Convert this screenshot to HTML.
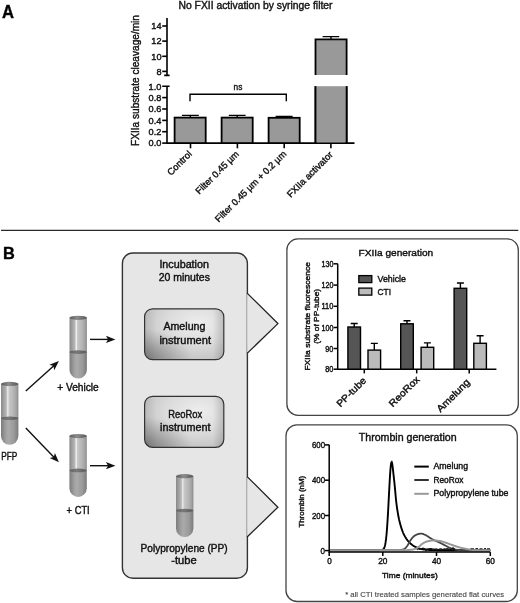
<!DOCTYPE html>
<html><head><meta charset="utf-8"><style>
html,body{margin:0;padding:0;background:#fff;}
svg{display:block;filter:grayscale(1);font-family:"Liberation Sans",sans-serif;}
text{stroke:#111;stroke-width:0.4px;}
</style></head><body>
<svg width="520" height="603" viewBox="0 0 520 603">
<defs>
<linearGradient id="tubeTop" x1="0" x2="1" y1="0" y2="0">
<stop offset="0" stop-color="#888"/><stop offset="0.15" stop-color="#a0a0a0"/><stop offset="0.3" stop-color="#b6b6b6"/>
<stop offset="0.36" stop-color="#dcdcdc"/><stop offset="0.4" stop-color="#f2f2f2"/><stop offset="0.45" stop-color="#c8c8c8"/><stop offset="0.7" stop-color="#b6b6b6"/><stop offset="0.88" stop-color="#a4a4a4"/><stop offset="1" stop-color="#888"/>
</linearGradient>
<linearGradient id="tubeLiq" x1="0" x2="1" y1="0" y2="0">
<stop offset="0" stop-color="#7c7c7c"/><stop offset="0.3" stop-color="#a2a2a2"/><stop offset="0.42" stop-color="#aaaaaa"/><stop offset="0.75" stop-color="#9a9a9a"/><stop offset="1" stop-color="#7a7a7a"/>
</linearGradient>
<linearGradient id="tubeBand" x1="0" x2="1" y1="0" y2="0">
<stop offset="0" stop-color="#5e5e5e"/><stop offset="0.4" stop-color="#7a7a7a"/><stop offset="1" stop-color="#5a5a5a"/>
</linearGradient>
<linearGradient id="tubeRim" x1="0" x2="1" y1="0" y2="0">
<stop offset="0" stop-color="#5a5a5a"/><stop offset="0.45" stop-color="#8c8c8c"/><stop offset="1" stop-color="#565656"/>
</linearGradient>
<radialGradient id="metal" cx="0.68" cy="0.3" r="0.95" fx="0.68" fy="0.3">
<stop offset="0" stop-color="#eeeeee"/><stop offset="0.45" stop-color="#dadada"/><stop offset="1" stop-color="#b4b4b4"/>
</radialGradient>
<radialGradient id="metalBL" cx="0" cy="1" r="0.6" fx="0" fy="1">
<stop offset="0" stop-color="#000" stop-opacity="0.32"/><stop offset="1" stop-color="#000" stop-opacity="0"/>
</radialGradient>
<linearGradient id="metalR" x1="0" x2="1" y1="0" y2="0">
<stop offset="0" stop-color="#000" stop-opacity="0.08"/><stop offset="0.15" stop-color="#000" stop-opacity="0"/><stop offset="0.86" stop-color="#000" stop-opacity="0"/><stop offset="1" stop-color="#000" stop-opacity="0.16"/>
</linearGradient>
</defs>
<rect x="0" y="0" width="520" height="603" fill="#fff"/>
<text x="2" y="17.5" font-size="17.6" fill="#000" textLength="12" lengthAdjust="spacingAndGlyphs" font-weight="bold">A</text>
<text x="178.5" y="9.4" font-size="10" fill="#222" textLength="154" lengthAdjust="spacingAndGlyphs">No FXII activation by syringe filter</text>
<text transform="translate(138.6,146) rotate(-90)" font-size="10.6" fill="#111" textLength="131" lengthAdjust="spacingAndGlyphs">FXIIa substrate cleavage/min</text>
<g stroke="#000" stroke-width="1.6" fill="none">
<path d="M167,18 V75.4 M164.2,75.4 H169.6 M167,86.2 V143.1 M162.2,86.2 H169.6 M166.2,143.1 H354.5"/>
<path d="M162.2,26 H167"/>
<path d="M162.2,41.1 H167"/>
<path d="M162.2,56.3 H167"/>
<path d="M162.2,71.4 H167"/>
<path d="M162.2,97.6 H167"/>
<path d="M162.2,109 H167"/>
<path d="M162.2,120.4 H167"/>
<path d="M162.2,131.7 H167"/>
<path d="M162.2,143.1 H167"/>
<path d="M190.5,143.1 V148.3"/>
<path d="M237.4,143.1 V148.3"/>
<path d="M284.2,143.1 V148.3"/>
<path d="M330.9,143.1 V148.3"/>
</g>
<text x="161.5" y="29.3" font-size="9.2" fill="#111" text-anchor="end">14</text>
<text x="161.5" y="44.4" font-size="9.2" fill="#111" text-anchor="end">12</text>
<text x="161.5" y="59.599999999999994" font-size="9.2" fill="#111" text-anchor="end">10</text>
<text x="161.5" y="74.7" font-size="9.2" fill="#111" text-anchor="end">8</text>
<text x="161.3" y="89.5" font-size="9.2" fill="#111" text-anchor="end">1.0</text>
<text x="161.3" y="100.89999999999999" font-size="9.2" fill="#111" text-anchor="end">0.8</text>
<text x="161.3" y="112.3" font-size="9.2" fill="#111" text-anchor="end">0.6</text>
<text x="161.3" y="123.7" font-size="9.2" fill="#111" text-anchor="end">0.4</text>
<text x="161.3" y="135.0" font-size="9.2" fill="#111" text-anchor="end">0.2</text>
<text x="161.3" y="146.4" font-size="9.2" fill="#111" text-anchor="end">0.0</text>
<rect x="174.6" y="117.6" width="31.1" height="25.5" fill="#999" stroke="#000" stroke-width="1.8"/>
<path d="M190.35000000000002,117.6 V115.4 M181.9,115.4 H198.8" stroke="#000" stroke-width="1.4"/>
<rect x="221.6" y="117.6" width="31.1" height="25.5" fill="#999" stroke="#000" stroke-width="1.8"/>
<path d="M237.2,117.6 V115.4 M228.8,115.4 H245.6" stroke="#000" stroke-width="1.4"/>
<rect x="268.6" y="117.8" width="31.1" height="25.299999999999997" fill="#999" stroke="#000" stroke-width="1.8"/>
<path d="M284.1,117.8 V116.5 M275.6,116.5 H292.6" stroke="#000" stroke-width="1.4"/>
<path d="M315.5,75 V39.4 H346.6 V75" fill="#999" stroke="#000" stroke-width="1.8"/>
<path d="M315.5,143.1 V86.2 M346.6,86.2 V143.1" stroke="#000" stroke-width="1.8"/>
<rect x="316.4" y="86.2" width="29.3" height="56" fill="#999"/>
<path d="M315.5,143.1 V86.2 M346.6,86.2 V143.1" stroke="#000" stroke-width="1.8"/>
<path d="M331,39 V36.6 M322.6,36.6 H339.2" stroke="#000" stroke-width="1.4"/>
<path d="M190,101.2 V94.3 H286.3 V101.2" fill="none" stroke="#000" stroke-width="1.4"/>
<text x="233.5" y="89.7" font-size="9.5" fill="#222" textLength="8.8" lengthAdjust="spacingAndGlyphs">ns</text>
<text transform="translate(192.5,154.6) rotate(-45)" text-anchor="end" font-size="9.4" fill="#111" textLength="30.3" lengthAdjust="spacingAndGlyphs">Control</text>
<text transform="translate(239.4,154.7) rotate(-45)" text-anchor="end" font-size="9.4" fill="#111" textLength="56.7" lengthAdjust="spacingAndGlyphs">Filter 0.45 µm</text>
<text transform="translate(286.9,154.6) rotate(-45)" text-anchor="end" font-size="9.4" fill="#111" textLength="96.5" lengthAdjust="spacingAndGlyphs">Filter 0.45 µm + 0.2 µm</text>
<text transform="translate(333.5,155.2) rotate(-45)" text-anchor="end" font-size="9.4" fill="#111" textLength="60.6" lengthAdjust="spacingAndGlyphs">FXIIa activator</text>
<path d="M1,230.4 H518.3" stroke="#2a2a2a" stroke-width="1.4"/>
<text x="3" y="259.3" font-size="17.3" fill="#000" textLength="11.8" lengthAdjust="spacingAndGlyphs" font-weight="bold">B</text>
<g transform="translate(1,381.7)">
<path d="M0,2 L17.4,2 L17.4,36.5 L0,36.5 Z" fill="url(#tubeTop)"/>
<path d="M0,36.5 L17.4,36.5 L17.4,54.3 A8.7,8.7 0 0 1 0,54.3 Z" fill="url(#tubeLiq)"/>
<ellipse cx="8.7" cy="36.5" rx="8.7" ry="1.8" fill="url(#tubeBand)"/>
<ellipse cx="8.7" cy="2.2" rx="8.7" ry="2.1" fill="url(#tubeRim)"/>
</g>
<g transform="translate(69.5,315.6)">
<path d="M0,2 L17.4,2 L17.4,36.5 L0,36.5 Z" fill="url(#tubeTop)"/>
<path d="M0,36.5 L17.4,36.5 L17.4,54.3 A8.7,8.7 0 0 1 0,54.3 Z" fill="url(#tubeLiq)"/>
<ellipse cx="8.7" cy="36.5" rx="8.7" ry="1.8" fill="url(#tubeBand)"/>
<ellipse cx="8.7" cy="2.2" rx="8.7" ry="2.1" fill="url(#tubeRim)"/>
</g>
<g transform="translate(69.4,433.9)">
<path d="M0,2 L17.4,2 L17.4,36.5 L0,36.5 Z" fill="url(#tubeTop)"/>
<path d="M0,36.5 L17.4,36.5 L17.4,54.3 A8.7,8.7 0 0 1 0,54.3 Z" fill="url(#tubeLiq)"/>
<ellipse cx="8.7" cy="36.5" rx="8.7" ry="1.8" fill="url(#tubeBand)"/>
<ellipse cx="8.7" cy="2.2" rx="8.7" ry="2.1" fill="url(#tubeRim)"/>
</g>
<text x="1.2" y="460.3" font-size="10" fill="#111" textLength="16.1" lengthAdjust="spacingAndGlyphs">PFP</text>
<text x="57.2" y="390.8" font-size="10.2" fill="#111" textLength="41.6" lengthAdjust="spacingAndGlyphs">+ Vehicle</text>
<text x="66.6" y="513.8" font-size="10" fill="#111" textLength="23.1" lengthAdjust="spacingAndGlyphs">+ CTI</text>
<path d="M25.80,390.90 L53.85,365.65" stroke="#111" stroke-width="1.4"/><path d="M58.90,361.10 L54.25,370.13 L53.47,365.98 L49.43,364.78 Z" fill="#111"/>
<path d="M25.80,427.90 L54.19,457.40" stroke="#111" stroke-width="1.4"/><path d="M58.90,462.30 L49.72,457.95 L53.84,457.04 L54.91,452.96 Z" fill="#111"/>
<path d="M90.00,339.40 L108.60,339.40" stroke="#111" stroke-width="1.4"/><path d="M115.40,339.40 L105.90,343.00 L108.10,339.40 L105.90,335.80 Z" fill="#111"/>
<path d="M90.00,465.70 L108.60,465.70" stroke="#111" stroke-width="1.4"/><path d="M115.40,465.70 L105.90,469.30 L108.10,465.70 L105.90,462.10 Z" fill="#111"/>
<rect x="122.4" y="253" width="125" height="325.2" rx="10.5" fill="#e6e6e6" stroke="#333" stroke-width="1.4"/>
<path d="M247.1,293.1 L277.9,323.6 L247.1,353.4" fill="#e6e6e6" stroke="#222" stroke-width="1.3"/>
<path d="M247.1,476.6 L277.9,507.2 L247.1,537" fill="#e6e6e6" stroke="#222" stroke-width="1.3"/>
<text x="159.4" y="267.5" font-size="10" fill="#111" textLength="49.5" lengthAdjust="spacingAndGlyphs">Incubation</text>
<text x="158.7" y="280.8" font-size="10" fill="#111" textLength="51.2" lengthAdjust="spacingAndGlyphs">20 minutes</text>
<rect x="144.6" y="308.8" width="79.2" height="50.9" rx="8" fill="url(#metal)"/><rect x="144.6" y="308.8" width="79.2" height="50.9" rx="8" fill="url(#metalBL)"/><rect x="144.6" y="308.8" width="79.2" height="50.9" rx="8" fill="url(#metalR)" stroke="#333" stroke-width="1.2"/>
<text x="163.4" y="330.3" font-size="10.2" fill="#111" textLength="42" lengthAdjust="spacingAndGlyphs">Amelung</text>
<text x="159.4" y="343.6" font-size="10.2" fill="#111" textLength="51.6" lengthAdjust="spacingAndGlyphs">instrument</text>
<rect x="144.6" y="396.3" width="79.2" height="51" rx="8" fill="url(#metal)"/><rect x="144.6" y="396.3" width="79.2" height="51" rx="8" fill="url(#metalBL)"/><rect x="144.6" y="396.3" width="79.2" height="51" rx="8" fill="url(#metalR)" stroke="#333" stroke-width="1.2"/>
<text x="168.2" y="417.5" font-size="10.2" fill="#111" textLength="34" lengthAdjust="spacingAndGlyphs">ReoRox</text>
<text x="160.1" y="430.7" font-size="10.2" fill="#111" textLength="50.5" lengthAdjust="spacingAndGlyphs">instrument</text>
<g transform="translate(176,474)">
<path d="M0,2 L17.4,2 L17.4,36.5 L0,36.5 Z" fill="url(#tubeTop)"/>
<path d="M0,36.5 L17.4,36.5 L17.4,54.3 A8.7,8.7 0 0 1 0,54.3 Z" fill="url(#tubeLiq)"/>
<ellipse cx="8.7" cy="36.5" rx="8.7" ry="1.8" fill="url(#tubeBand)"/>
<ellipse cx="8.7" cy="2.2" rx="8.7" ry="2.1" fill="url(#tubeRim)"/>
</g>
<text x="140.5" y="552.2" font-size="10.2" fill="#111" textLength="87.2" lengthAdjust="spacingAndGlyphs">Polypropylene (PP)</text>
<text x="171.2" y="564" font-size="10.2" fill="#111" textLength="25.5" lengthAdjust="spacingAndGlyphs">-tube</text>
<rect x="286.9" y="238.9" width="231.4" height="176.4" rx="11" fill="#fff" stroke="#444" stroke-width="1.3"/>
<text x="358.5" y="255.9" font-size="9.8" fill="#111" textLength="74.7" lengthAdjust="spacingAndGlyphs">FXIIa generation</text>
<g stroke="#000" stroke-width="1.5" fill="none">
<path d="M337.7,263.8 V369.2 M337,369.2 H496.4"/>
<path d="M333.6,263.8 H337.7"/>
<path d="M333.6,285.1 H337.7"/>
<path d="M333.6,306.3 H337.7"/>
<path d="M333.6,327.5 H337.7"/>
<path d="M333.6,348.5 H337.7"/>
<path d="M333.6,369.2 H337.7"/>
<path d="M364.3,369.2 V373.4"/>
<path d="M416.7,369.2 V373.4"/>
<path d="M469.2,369.2 V373.4"/>
</g>
<text x="333.4" y="266.90000000000003" font-size="8.3" fill="#111" text-anchor="end" textLength="11.9" lengthAdjust="spacingAndGlyphs">130</text>
<text x="333.4" y="288.20000000000005" font-size="8.3" fill="#111" text-anchor="end" textLength="11.9" lengthAdjust="spacingAndGlyphs">120</text>
<text x="333.4" y="309.40000000000003" font-size="8.3" fill="#111" text-anchor="end" textLength="11.9" lengthAdjust="spacingAndGlyphs">110</text>
<text x="333.4" y="330.6" font-size="8.3" fill="#111" text-anchor="end" textLength="11.9" lengthAdjust="spacingAndGlyphs">100</text>
<text x="333.4" y="351.6" font-size="8.3" fill="#111" text-anchor="end" textLength="8.1" lengthAdjust="spacingAndGlyphs">90</text>
<text x="333.4" y="372.3" font-size="8.3" fill="#111" text-anchor="end" textLength="8.1" lengthAdjust="spacingAndGlyphs">80</text>
<rect x="347.9" y="327" width="12.6" height="42.19999999999999" fill="#555" stroke="#000" stroke-width="1.4"/>
<path d="M354.2,327 V323.5 M350.7,323.5 H357.7" stroke="#000" stroke-width="1.4"/>
<rect x="368.0" y="350.1" width="12.6" height="19.099999999999966" fill="#bbb" stroke="#000" stroke-width="1.4"/>
<path d="M374.3,350.1 V343.4 M370.8,343.4 H377.8" stroke="#000" stroke-width="1.4"/>
<rect x="400.7" y="323.8" width="12.6" height="45.39999999999998" fill="#555" stroke="#000" stroke-width="1.4"/>
<path d="M407,323.8 V320.8 M403.5,320.8 H410.5" stroke="#000" stroke-width="1.4"/>
<rect x="421.09999999999997" y="347.3" width="12.6" height="21.899999999999977" fill="#bbb" stroke="#000" stroke-width="1.4"/>
<path d="M427.4,347.3 V342.9 M423.9,342.9 H430.9" stroke="#000" stroke-width="1.4"/>
<rect x="454.09999999999997" y="288.3" width="12.6" height="80.89999999999998" fill="#555" stroke="#000" stroke-width="1.4"/>
<path d="M460.4,288.3 V283 M456.9,283 H463.9" stroke="#000" stroke-width="1.4"/>
<rect x="473.8" y="343.3" width="12.6" height="25.899999999999977" fill="#bbb" stroke="#000" stroke-width="1.4"/>
<path d="M480.1,343.3 V335.7 M476.6,335.7 H483.6" stroke="#000" stroke-width="1.4"/>
<rect x="358.8" y="275.6" width="13" height="7" fill="#555" stroke="#000" stroke-width="1.3"/>
<rect x="358.8" y="288.1" width="13" height="7" fill="#bbb" stroke="#000" stroke-width="1.3"/>
<text x="377.5" y="282.4" font-size="9.2" fill="#111" textLength="28.5" lengthAdjust="spacingAndGlyphs">Vehicle</text>
<text x="377.5" y="294.5" font-size="9.2" fill="#111" textLength="13.5" lengthAdjust="spacingAndGlyphs">CTI</text>
<text transform="translate(309.8,370.6) rotate(-90)" font-size="7.8" fill="#111" textLength="108.6" lengthAdjust="spacingAndGlyphs">FXIIa substrate fluorescence</text>
<text transform="translate(319.3,343.7) rotate(-90)" font-size="7.8" fill="#111" textLength="54.8" lengthAdjust="spacingAndGlyphs">(% of PP-tube)</text>
<text transform="translate(366.8,381.2) rotate(-45)" text-anchor="end" font-size="9.7" fill="#111" textLength="37.3" lengthAdjust="spacingAndGlyphs">PP-tube</text>
<text transform="translate(420.2,380.1) rotate(-45)" text-anchor="end" font-size="9.7" fill="#111" textLength="38.7" lengthAdjust="spacingAndGlyphs">ReoRox</text>
<text transform="translate(470.5,382.8) rotate(-45)" text-anchor="end" font-size="9.7" fill="#111" textLength="42.4" lengthAdjust="spacingAndGlyphs">Amelung</text>
<rect x="286" y="424.8" width="231.3" height="176.7" rx="11" fill="#fff" stroke="#444" stroke-width="1.3"/>
<text x="358.8" y="441.2" font-size="10.3" fill="#111" textLength="97.8" lengthAdjust="spacingAndGlyphs">Thrombin generation</text>
<text transform="translate(304.2,527.6) rotate(-90)" font-size="7.8" fill="#111" textLength="51.8" lengthAdjust="spacingAndGlyphs">Thrombin (nM)</text>
<path d="M329.50,550.20 L329.82,550.20 L330.14,550.20 L330.47,550.20 L330.79,550.20 L331.11,550.20 L331.43,550.20 L331.76,550.20 L332.08,550.20 L332.40,550.20 L332.72,550.20 L333.04,550.20 L333.37,550.20 L333.69,550.20 L334.01,550.20 L334.33,550.20 L334.66,550.20 L334.98,550.20 L335.30,550.20 L335.62,550.20 L335.94,550.20 L336.27,550.20 L336.59,550.20 L336.91,550.20 L337.23,550.20 L337.56,550.20 L337.88,550.20 L338.20,550.20 L338.52,550.20 L338.85,550.20 L339.17,550.20 L339.49,550.20 L339.81,550.20 L340.13,550.20 L340.46,550.20 L340.78,550.20 L341.10,550.20 L341.42,550.20 L341.75,550.20 L342.07,550.20 L342.39,550.20 L342.71,550.20 L343.03,550.20 L343.36,550.20 L343.68,550.20 L344.00,550.20 L344.32,550.20 L344.65,550.20 L344.97,550.20 L345.29,550.20 L345.61,550.20 L345.93,550.20 L346.26,550.20 L346.58,550.20 L346.90,550.20 L347.22,550.20 L347.55,550.20 L347.87,550.20 L348.19,550.20 L348.51,550.20 L348.83,550.20 L349.16,550.20 L349.48,550.20 L349.80,550.20 L350.12,550.20 L350.45,550.20 L350.77,550.20 L351.09,550.20 L351.41,550.20 L351.73,550.20 L352.06,550.20 L352.38,550.20 L352.70,550.20 L353.02,550.20 L353.35,550.20 L353.67,550.20 L353.99,550.20 L354.31,550.20 L354.64,550.20 L354.96,550.20 L355.28,550.20 L355.60,550.20 L355.92,550.20 L356.25,550.20 L356.57,550.20 L356.89,550.20 L357.21,550.20 L357.54,550.20 L357.86,550.20 L358.18,550.20 L358.50,550.20 L358.82,550.20 L359.15,550.20 L359.47,550.20 L359.79,550.20 L360.11,550.20 L360.44,550.20 L360.76,550.20 L361.08,550.20 L361.40,550.20 L361.72,550.20 L362.05,550.20 L362.37,550.20 L362.69,550.20 L363.01,550.20 L363.34,550.20 L363.66,550.20 L363.98,550.20 L364.30,550.20 L364.62,550.20 L364.95,550.20 L365.27,550.20 L365.59,550.20 L365.91,550.20 L366.24,550.20 L366.56,550.20 L366.88,550.20 L367.20,550.20 L367.52,550.20 L367.85,550.20 L368.17,550.20 L368.49,550.20 L368.81,550.20 L369.14,550.20 L369.46,550.20 L369.78,550.20 L370.10,550.20 L370.43,550.20 L370.75,550.20 L371.07,550.20 L371.39,550.20 L371.71,550.20 L372.04,550.20 L372.36,550.20 L372.68,550.20 L373.00,550.20 L373.33,550.20 L373.65,550.20 L373.97,550.20 L374.29,550.20 L374.61,550.20 L374.94,550.20 L375.26,550.20 L375.58,550.20 L375.90,550.20 L376.23,550.20 L376.55,550.20 L376.87,550.20 L377.19,550.20 L377.51,550.19 L377.84,550.19 L378.16,550.19 L378.48,550.19 L378.80,550.18 L379.13,550.18 L379.45,550.18 L379.77,550.17 L380.09,550.16 L380.41,550.16 L380.74,550.15 L381.06,550.14 L381.38,550.14 L381.70,550.13 L382.03,550.12 L382.35,550.11 L382.67,550.01 L382.99,549.61 L383.31,549.28 L383.64,548.93 L383.96,548.42 L384.28,547.74 L384.60,546.86 L384.93,545.71 L385.25,544.26 L385.57,542.44 L385.89,540.21 L386.22,537.52 L386.54,534.30 L386.86,530.58 L387.18,526.28 L387.50,521.49 L387.83,516.16 L388.15,510.45 L388.47,504.36 L388.79,498.14 L389.12,491.81 L389.44,485.71 L389.76,479.83 L390.08,474.62 L390.40,469.97 L390.73,466.45 L391.05,463.70 L391.37,462.37 L391.69,462.04 L392.02,462.84 L392.34,464.48 L392.66,466.77 L392.98,469.52 L393.30,472.53 L393.63,475.63 L393.95,478.60 L394.27,481.39 L394.59,484.50 L394.92,487.90 L395.24,491.44 L395.56,494.98 L395.88,498.39 L396.20,501.52 L396.53,504.25 L396.85,506.58 L397.17,508.80 L397.49,510.89 L397.82,512.88 L398.14,514.75 L398.46,516.50 L398.78,518.13 L399.10,519.63 L399.43,521.01 L399.75,522.28 L400.07,523.50 L400.39,524.67 L400.72,525.80 L401.04,526.88 L401.36,527.91 L401.68,528.89 L402.01,529.83 L402.33,530.72 L402.65,531.56 L402.97,532.36 L403.29,533.11 L403.62,533.82 L403.94,534.48 L404.26,535.10 L404.58,535.71 L404.91,536.29 L405.23,536.86 L405.55,537.40 L405.87,537.93 L406.19,538.44 L406.52,538.92 L406.84,539.40 L407.16,539.85 L407.48,540.28 L407.81,540.70 L408.13,541.10 L408.45,541.48 L408.77,541.85 L409.09,542.19 L409.42,542.53 L409.74,542.84 L410.06,543.14 L410.38,543.44 L410.71,543.72 L411.03,544.00 L411.35,544.27 L411.67,544.53 L411.99,544.78 L412.32,545.02 L412.64,545.26 L412.96,545.48 L413.28,545.70 L413.61,545.91 L413.93,546.10 L414.25,546.30 L414.57,546.48 L414.89,546.65 L415.22,546.82 L415.54,546.97 L415.86,547.12 L416.18,547.27 L416.51,547.41 L416.83,547.55 L417.15,547.69 L417.47,547.83 L417.79,547.96 L418.12,548.09 L418.44,548.21 L418.76,548.33 L419.08,548.45 L419.41,548.55 L419.73,548.66 L420.05,548.76 L420.37,548.85 L420.70,548.93 L421.02,549.01 L421.34,549.08 L421.66,549.14 L421.98,549.20 L422.31,549.25 L422.63,549.30 L422.95,549.34 L423.27,549.39 L423.60,549.44 L423.92,549.48 L424.24,549.52 L424.56,549.56 L424.88,549.60 L425.21,549.64 L425.53,549.67 L425.85,549.71 L426.17,549.74 L426.50,549.77 L426.82,549.80 L427.14,549.83 L427.46,549.86 L427.78,549.88 L428.11,549.90 L428.43,549.92 L428.75,549.94 L429.07,549.96 L429.40,549.98 L429.72,549.99 L430.04,550.00 L430.36,550.01 L430.68,550.02 L431.01,550.03 L431.33,550.04 L431.65,550.05 L431.97,550.06 L432.30,550.07 L432.62,550.08 L432.94,550.09 L433.26,550.10 L433.58,550.11 L433.91,550.12 L434.23,550.13 L434.55,550.13 L434.87,550.14 L435.20,550.15 L435.52,550.15 L435.84,550.16 L436.16,550.17 L436.49,550.17 L436.81,550.18 L437.13,550.18 L437.45,550.18 L437.77,550.19 L438.10,550.19 L438.42,550.19 L438.74,550.20 L439.06,550.20 L439.39,550.20 L439.71,550.20 L440.03,550.20 L440.35,550.20 L440.67,550.20 L441.00,550.20 L441.32,550.20 L441.64,550.20 L441.96,550.20 L442.29,550.20 L442.61,550.20 L442.93,550.20 L443.25,550.20 L443.57,550.20 L443.90,550.20 L444.22,550.20 L444.54,550.20 L444.86,550.20 L445.19,550.20 L445.51,550.20 L445.83,550.20 L446.15,550.20 L446.47,550.20 L446.80,550.20 L447.12,550.20 L447.44,550.20 L447.76,550.20 L448.09,550.20 L448.41,550.20 L448.73,550.20 L449.05,550.20 L449.37,550.20 L449.70,550.20 L450.02,550.20 L450.34,550.20 L450.66,550.20 L450.99,550.20 L451.31,550.20 L451.63,550.20 L451.95,550.20 L452.28,550.20 L452.60,550.20 L452.92,550.20 L453.24,550.20 L453.56,550.20 L453.89,550.20 L454.21,550.20 L454.53,550.20 L454.85,550.20 L455.18,550.20 L455.50,550.20 L455.82,550.20 L456.14,550.20 L456.46,550.20 L456.79,550.20 L457.11,550.20 L457.43,550.20 L457.75,550.20 L458.08,550.20 L458.40,550.20 L458.72,550.20 L459.04,550.20 L459.36,550.20 L459.69,550.20 L460.01,550.20 L460.33,550.20 L460.65,550.20 L460.98,550.20 L461.30,550.20 L461.62,550.20 L461.94,550.20 L462.26,550.20 L462.59,550.20 L462.91,550.20 L463.23,550.20 L463.55,550.20 L463.88,550.20 L464.20,550.20 L464.52,550.20 L464.84,550.20 L465.16,550.20 L465.49,550.20 L465.81,550.20 L466.13,550.20 L466.45,550.20 L466.78,550.20 L467.10,550.20 L467.42,550.20 L467.74,550.20 L468.07,550.20 L468.39,550.20 L468.71,550.20 L469.03,550.20 L469.35,550.20 L469.68,550.20 L470.00,550.20 L470.32,550.20 L470.64,550.20 L470.97,550.20 L471.29,550.20 L471.61,550.20 L471.93,550.20 L472.25,550.20 L472.58,550.20 L472.90,550.20 L473.22,550.20 L473.54,550.20 L473.87,550.20 L474.19,550.20 L474.51,550.20 L474.83,550.20 L475.15,550.20 L475.48,550.20 L475.80,550.20 L476.12,550.20 L476.44,550.20 L476.77,550.20 L477.09,550.20 L477.41,550.20 L477.73,550.20 L478.05,550.20 L478.38,550.20 L478.70,550.20 L479.02,550.20 L479.34,550.20 L479.67,550.20 L479.99,550.20 L480.31,550.20 L480.63,550.20 L480.95,550.20 L481.28,550.20 L481.60,550.20 L481.92,550.20 L482.24,550.20 L482.57,550.20 L482.89,550.20 L483.21,550.20 L483.53,550.20 L483.86,550.20 L484.18,550.20 L484.50,550.20 L484.82,550.20 L485.14,550.20 L485.47,550.20 L485.79,550.20 L486.11,550.20 L486.43,550.20 L486.76,550.20 L487.08,550.20 L487.40,550.20 L487.72,550.20 L488.04,550.20 L488.37,550.20 L488.69,550.20 L489.01,550.20 L489.33,550.20 L489.66,550.20 L489.98,550.20 L490.30,550.20" fill="none" stroke="#000" stroke-width="1.9"/>
<path d="M329.50,550.20 L329.82,550.20 L330.14,550.20 L330.47,550.20 L330.79,550.20 L331.11,550.20 L331.43,550.20 L331.76,550.20 L332.08,550.20 L332.40,550.20 L332.72,550.20 L333.04,550.20 L333.37,550.20 L333.69,550.20 L334.01,550.20 L334.33,550.20 L334.66,550.20 L334.98,550.20 L335.30,550.20 L335.62,550.20 L335.94,550.20 L336.27,550.20 L336.59,550.20 L336.91,550.20 L337.23,550.20 L337.56,550.20 L337.88,550.20 L338.20,550.20 L338.52,550.20 L338.85,550.20 L339.17,550.20 L339.49,550.20 L339.81,550.20 L340.13,550.20 L340.46,550.20 L340.78,550.20 L341.10,550.20 L341.42,550.20 L341.75,550.20 L342.07,550.20 L342.39,550.20 L342.71,550.20 L343.03,550.20 L343.36,550.20 L343.68,550.20 L344.00,550.20 L344.32,550.20 L344.65,550.20 L344.97,550.20 L345.29,550.20 L345.61,550.20 L345.93,550.20 L346.26,550.20 L346.58,550.20 L346.90,550.20 L347.22,550.20 L347.55,550.20 L347.87,550.20 L348.19,550.20 L348.51,550.20 L348.83,550.20 L349.16,550.20 L349.48,550.20 L349.80,550.20 L350.12,550.20 L350.45,550.20 L350.77,550.20 L351.09,550.20 L351.41,550.20 L351.73,550.20 L352.06,550.20 L352.38,550.20 L352.70,550.20 L353.02,550.20 L353.35,550.20 L353.67,550.20 L353.99,550.20 L354.31,550.20 L354.64,550.20 L354.96,550.20 L355.28,550.20 L355.60,550.20 L355.92,550.20 L356.25,550.20 L356.57,550.20 L356.89,550.20 L357.21,550.20 L357.54,550.20 L357.86,550.20 L358.18,550.20 L358.50,550.20 L358.82,550.20 L359.15,550.20 L359.47,550.20 L359.79,550.20 L360.11,550.20 L360.44,550.20 L360.76,550.20 L361.08,550.20 L361.40,550.20 L361.72,550.20 L362.05,550.20 L362.37,550.20 L362.69,550.20 L363.01,550.20 L363.34,550.20 L363.66,550.20 L363.98,550.20 L364.30,550.20 L364.62,550.20 L364.95,550.20 L365.27,550.20 L365.59,550.20 L365.91,550.20 L366.24,550.20 L366.56,550.20 L366.88,550.20 L367.20,550.20 L367.52,550.20 L367.85,550.20 L368.17,550.20 L368.49,550.20 L368.81,550.20 L369.14,550.20 L369.46,550.20 L369.78,550.20 L370.10,550.20 L370.43,550.20 L370.75,550.20 L371.07,550.20 L371.39,550.20 L371.71,550.20 L372.04,550.20 L372.36,550.20 L372.68,550.20 L373.00,550.20 L373.33,550.20 L373.65,550.20 L373.97,550.20 L374.29,550.20 L374.61,550.20 L374.94,550.20 L375.26,550.20 L375.58,550.20 L375.90,550.20 L376.23,550.20 L376.55,550.20 L376.87,550.20 L377.19,550.20 L377.51,550.20 L377.84,550.20 L378.16,550.20 L378.48,550.20 L378.80,550.20 L379.13,550.20 L379.45,550.20 L379.77,550.20 L380.09,550.20 L380.41,550.20 L380.74,550.20 L381.06,550.20 L381.38,550.20 L381.70,550.20 L382.03,550.20 L382.35,550.20 L382.67,550.20 L382.99,550.20 L383.31,550.20 L383.64,550.20 L383.96,550.20 L384.28,550.20 L384.60,550.20 L384.93,550.20 L385.25,550.20 L385.57,550.20 L385.89,550.20 L386.22,550.20 L386.54,550.20 L386.86,550.20 L387.18,550.20 L387.50,550.20 L387.83,550.20 L388.15,550.20 L388.47,550.20 L388.79,550.20 L389.12,550.20 L389.44,550.20 L389.76,550.20 L390.08,550.20 L390.40,550.20 L390.73,550.20 L391.05,550.20 L391.37,550.20 L391.69,550.20 L392.02,550.20 L392.34,550.20 L392.66,550.20 L392.98,550.20 L393.30,550.20 L393.63,550.20 L393.95,550.20 L394.27,550.20 L394.59,550.20 L394.92,550.20 L395.24,550.20 L395.56,550.20 L395.88,550.19 L396.20,550.19 L396.53,550.18 L396.85,550.17 L397.17,550.16 L397.49,550.14 L397.82,550.13 L398.14,550.11 L398.46,550.09 L398.78,550.07 L399.10,550.05 L399.43,550.03 L399.75,550.01 L400.07,549.98 L400.39,549.95 L400.72,549.93 L401.04,549.90 L401.36,549.86 L401.68,549.81 L402.01,549.74 L402.33,549.66 L402.65,549.58 L402.97,549.48 L403.29,549.36 L403.62,549.24 L403.94,549.11 L404.26,548.97 L404.58,548.79 L404.91,548.56 L405.23,548.28 L405.55,547.97 L405.87,547.62 L406.19,547.25 L406.52,546.86 L406.84,546.46 L407.16,546.05 L407.48,545.61 L407.81,545.10 L408.13,544.54 L408.45,543.93 L408.77,543.31 L409.09,542.68 L409.42,542.06 L409.74,541.47 L410.06,540.92 L410.38,540.42 L410.71,539.97 L411.03,539.53 L411.35,539.09 L411.67,538.66 L411.99,538.25 L412.32,537.86 L412.64,537.49 L412.96,537.14 L413.28,536.81 L413.61,536.52 L413.93,536.25 L414.25,536.02 L414.57,535.79 L414.89,535.57 L415.22,535.37 L415.54,535.17 L415.86,534.99 L416.18,534.82 L416.51,534.67 L416.83,534.53 L417.15,534.41 L417.47,534.31 L417.79,534.22 L418.12,534.13 L418.44,534.04 L418.76,533.96 L419.08,533.88 L419.41,533.81 L419.73,533.74 L420.05,533.69 L420.37,533.65 L420.70,533.62 L421.02,533.60 L421.34,533.60 L421.66,533.63 L421.98,533.68 L422.31,533.75 L422.63,533.84 L422.95,533.95 L423.27,534.07 L423.60,534.20 L423.92,534.34 L424.24,534.48 L424.56,534.62 L424.88,534.75 L425.21,534.89 L425.53,535.04 L425.85,535.20 L426.17,535.38 L426.50,535.57 L426.82,535.76 L427.14,535.97 L427.46,536.18 L427.78,536.39 L428.11,536.61 L428.43,536.83 L428.75,537.05 L429.07,537.26 L429.40,537.48 L429.72,537.68 L430.04,537.89 L430.36,538.08 L430.68,538.27 L431.01,538.45 L431.33,538.64 L431.65,538.83 L431.97,539.01 L432.30,539.19 L432.62,539.37 L432.94,539.55 L433.26,539.72 L433.58,539.89 L433.91,540.05 L434.23,540.21 L434.55,540.36 L434.87,540.51 L435.20,540.65 L435.52,540.79 L435.84,540.93 L436.16,541.06 L436.49,541.20 L436.81,541.33 L437.13,541.47 L437.45,541.61 L437.77,541.75 L438.10,541.90 L438.42,542.05 L438.74,542.20 L439.06,542.35 L439.39,542.51 L439.71,542.66 L440.03,542.82 L440.35,542.98 L440.67,543.14 L441.00,543.30 L441.32,543.46 L441.64,543.62 L441.96,543.78 L442.29,543.95 L442.61,544.11 L442.93,544.28 L443.25,544.45 L443.57,544.62 L443.90,544.79 L444.22,544.97 L444.54,545.14 L444.86,545.31 L445.19,545.48 L445.51,545.65 L445.83,545.82 L446.15,545.98 L446.47,546.15 L446.80,546.33 L447.12,546.50 L447.44,546.68 L447.76,546.85 L448.09,547.02 L448.41,547.19 L448.73,547.35 L449.05,547.51 L449.37,547.67 L449.70,547.81 L450.02,547.95 L450.34,548.08 L450.66,548.20 L450.99,548.32 L451.31,548.44 L451.63,548.55 L451.95,548.66 L452.28,548.77 L452.60,548.87 L452.92,548.97 L453.24,549.07 L453.56,549.16 L453.89,549.25 L454.21,549.33 L454.53,549.40 L454.85,549.47 L455.18,549.53 L455.50,549.60 L455.82,549.66 L456.14,549.72 L456.46,549.79 L456.79,549.85 L457.11,549.90 L457.43,549.96 L457.75,550.01 L458.08,550.06 L458.40,550.10 L458.72,550.13 L459.04,550.16 L459.36,550.18 L459.69,550.20 L460.01,550.20 L460.33,550.20 L460.65,550.20 L460.98,550.20 L461.30,550.20 L461.62,550.20 L461.94,550.20 L462.26,550.20 L462.59,550.20 L462.91,550.20 L463.23,550.20 L463.55,550.20 L463.88,550.20 L464.20,550.20 L464.52,550.20 L464.84,550.20 L465.16,550.20 L465.49,550.20 L465.81,550.20 L466.13,550.20 L466.45,550.20 L466.78,550.20 L467.10,550.20 L467.42,550.20 L467.74,550.20 L468.07,550.20 L468.39,550.20 L468.71,550.20 L469.03,550.20 L469.35,550.20 L469.68,550.20 L470.00,550.20 L470.32,550.20 L470.64,550.20 L470.97,550.20 L471.29,550.20 L471.61,550.20 L471.93,550.20 L472.25,550.20 L472.58,550.20 L472.90,550.20 L473.22,550.20 L473.54,550.20 L473.87,550.20 L474.19,550.20 L474.51,550.20 L474.83,550.20 L475.15,550.20 L475.48,550.20 L475.80,550.20 L476.12,550.20 L476.44,550.20 L476.77,550.20 L477.09,550.20 L477.41,550.20 L477.73,550.20 L478.05,550.20 L478.38,550.20 L478.70,550.20 L479.02,550.20 L479.34,550.20 L479.67,550.20 L479.99,550.20 L480.31,550.20 L480.63,550.20 L480.95,550.20 L481.28,550.20 L481.60,550.20 L481.92,550.20 L482.24,550.20 L482.57,550.20 L482.89,550.20 L483.21,550.20 L483.53,550.20 L483.86,550.20 L484.18,550.20 L484.50,550.20 L484.82,550.20 L485.14,550.20 L485.47,550.20 L485.79,550.20 L486.11,550.20 L486.43,550.20 L486.76,550.20 L487.08,550.20 L487.40,550.20 L487.72,550.20 L488.04,550.20 L488.37,550.20 L488.69,550.20 L489.01,550.20 L489.33,550.20 L489.66,550.20 L489.98,550.20 L490.30,550.20" fill="none" stroke="#444" stroke-width="1.8"/>
<path d="M417.0,549.92 L418.0,547.85 L419.0,549.19 L420.0,548.74 L421.0,548.80 L422.0,548.90 L423.0,548.09 L424.0,548.90 L425.0,548.61 L426.0,550.50 L427.0,549.10 L428.0,548.84 L429.0,548.87 L430.0,548.70 L431.0,548.53 L432.0,548.82 L433.0,549.22 L434.0,548.89 L435.0,549.43 L436.0,548.91 L437.0,549.01 L438.0,549.70 L439.0,549.25 L440.0,548.77 L441.0,548.92 L442.0,549.24 L443.0,549.87 L444.0,548.88 L445.0,548.89 L446.0,549.45 L447.0,548.60 L448.0,548.87 L449.0,549.40 L450.0,549.26 L451.0,549.04 L452.0,549.30 L453.0,547.73 L454.0,549.46 L455.0,548.57" fill="none" stroke="#111" stroke-width="1.2"/>
<path d="M329.50,550.20 L329.82,550.20 L330.14,550.20 L330.47,550.20 L330.79,550.20 L331.11,550.20 L331.43,550.20 L331.76,550.20 L332.08,550.20 L332.40,550.20 L332.72,550.20 L333.04,550.20 L333.37,550.20 L333.69,550.20 L334.01,550.20 L334.33,550.20 L334.66,550.20 L334.98,550.20 L335.30,550.20 L335.62,550.20 L335.94,550.20 L336.27,550.20 L336.59,550.20 L336.91,550.20 L337.23,550.20 L337.56,550.20 L337.88,550.20 L338.20,550.20 L338.52,550.20 L338.85,550.20 L339.17,550.20 L339.49,550.20 L339.81,550.20 L340.13,550.20 L340.46,550.20 L340.78,550.20 L341.10,550.20 L341.42,550.20 L341.75,550.20 L342.07,550.20 L342.39,550.20 L342.71,550.20 L343.03,550.20 L343.36,550.20 L343.68,550.20 L344.00,550.20 L344.32,550.20 L344.65,550.20 L344.97,550.20 L345.29,550.20 L345.61,550.20 L345.93,550.20 L346.26,550.20 L346.58,550.20 L346.90,550.20 L347.22,550.20 L347.55,550.20 L347.87,550.20 L348.19,550.20 L348.51,550.20 L348.83,550.20 L349.16,550.20 L349.48,550.20 L349.80,550.20 L350.12,550.20 L350.45,550.20 L350.77,550.20 L351.09,550.20 L351.41,550.20 L351.73,550.20 L352.06,550.20 L352.38,550.20 L352.70,550.20 L353.02,550.20 L353.35,550.20 L353.67,550.20 L353.99,550.20 L354.31,550.20 L354.64,550.20 L354.96,550.20 L355.28,550.20 L355.60,550.20 L355.92,550.20 L356.25,550.20 L356.57,550.20 L356.89,550.20 L357.21,550.20 L357.54,550.20 L357.86,550.20 L358.18,550.20 L358.50,550.20 L358.82,550.20 L359.15,550.20 L359.47,550.20 L359.79,550.20 L360.11,550.20 L360.44,550.20 L360.76,550.20 L361.08,550.20 L361.40,550.20 L361.72,550.20 L362.05,550.20 L362.37,550.20 L362.69,550.20 L363.01,550.20 L363.34,550.20 L363.66,550.20 L363.98,550.20 L364.30,550.20 L364.62,550.20 L364.95,550.20 L365.27,550.20 L365.59,550.20 L365.91,550.20 L366.24,550.20 L366.56,550.20 L366.88,550.20 L367.20,550.20 L367.52,550.20 L367.85,550.20 L368.17,550.20 L368.49,550.20 L368.81,550.20 L369.14,550.20 L369.46,550.20 L369.78,550.20 L370.10,550.20 L370.43,550.20 L370.75,550.20 L371.07,550.20 L371.39,550.20 L371.71,550.20 L372.04,550.20 L372.36,550.20 L372.68,550.20 L373.00,550.20 L373.33,550.20 L373.65,550.20 L373.97,550.20 L374.29,550.20 L374.61,550.20 L374.94,550.20 L375.26,550.20 L375.58,550.20 L375.90,550.20 L376.23,550.20 L376.55,550.20 L376.87,550.20 L377.19,550.20 L377.51,550.20 L377.84,550.20 L378.16,550.20 L378.48,550.20 L378.80,550.20 L379.13,550.20 L379.45,550.20 L379.77,550.20 L380.09,550.20 L380.41,550.20 L380.74,550.20 L381.06,550.20 L381.38,550.20 L381.70,550.20 L382.03,550.20 L382.35,550.20 L382.67,550.20 L382.99,550.20 L383.31,550.20 L383.64,550.20 L383.96,550.20 L384.28,550.20 L384.60,550.20 L384.93,550.20 L385.25,550.20 L385.57,550.20 L385.89,550.20 L386.22,550.20 L386.54,550.20 L386.86,550.20 L387.18,550.20 L387.50,550.20 L387.83,550.20 L388.15,550.20 L388.47,550.20 L388.79,550.20 L389.12,550.20 L389.44,550.20 L389.76,550.20 L390.08,550.20 L390.40,550.20 L390.73,550.20 L391.05,550.20 L391.37,550.20 L391.69,550.20 L392.02,550.20 L392.34,550.20 L392.66,550.20 L392.98,550.20 L393.30,550.20 L393.63,550.20 L393.95,550.20 L394.27,550.20 L394.59,550.20 L394.92,550.20 L395.24,550.20 L395.56,550.20 L395.88,550.20 L396.20,550.20 L396.53,550.20 L396.85,550.20 L397.17,550.20 L397.49,550.20 L397.82,550.20 L398.14,550.20 L398.46,550.20 L398.78,550.20 L399.10,550.20 L399.43,550.20 L399.75,550.20 L400.07,550.20 L400.39,550.20 L400.72,550.20 L401.04,550.20 L401.36,550.20 L401.68,550.20 L402.01,550.20 L402.33,550.20 L402.65,550.20 L402.97,550.20 L403.29,550.20 L403.62,550.20 L403.94,550.20 L404.26,550.20 L404.58,550.20 L404.91,550.20 L405.23,550.20 L405.55,550.20 L405.87,550.19 L406.19,550.18 L406.52,550.17 L406.84,550.15 L407.16,550.13 L407.48,550.11 L407.81,550.09 L408.13,550.07 L408.45,550.04 L408.77,550.02 L409.09,549.99 L409.42,549.96 L409.74,549.93 L410.06,549.90 L410.38,549.86 L410.71,549.83 L411.03,549.80 L411.35,549.76 L411.67,549.72 L411.99,549.67 L412.32,549.62 L412.64,549.57 L412.96,549.51 L413.28,549.44 L413.61,549.37 L413.93,549.29 L414.25,549.21 L414.57,549.12 L414.89,549.03 L415.22,548.93 L415.54,548.80 L415.86,548.66 L416.18,548.49 L416.51,548.31 L416.83,548.12 L417.15,547.91 L417.47,547.70 L417.79,547.48 L418.12,547.26 L418.44,547.04 L418.76,546.81 L419.08,546.57 L419.41,546.30 L419.73,546.01 L420.05,545.72 L420.37,545.42 L420.70,545.12 L421.02,544.82 L421.34,544.53 L421.66,544.26 L421.98,544.00 L422.31,543.76 L422.63,543.54 L422.95,543.35 L423.27,543.16 L423.60,542.98 L423.92,542.80 L424.24,542.63 L424.56,542.46 L424.88,542.30 L425.21,542.15 L425.53,542.01 L425.85,541.88 L426.17,541.75 L426.50,541.65 L426.82,541.55 L427.14,541.46 L427.46,541.38 L427.78,541.30 L428.11,541.22 L428.43,541.14 L428.75,541.06 L429.07,540.99 L429.40,540.92 L429.72,540.85 L430.04,540.78 L430.36,540.72 L430.68,540.66 L431.01,540.61 L431.33,540.56 L431.65,540.52 L431.97,540.48 L432.30,540.45 L432.62,540.43 L432.94,540.41 L433.26,540.40 L433.58,540.40 L433.91,540.40 L434.23,540.41 L434.55,540.42 L434.87,540.44 L435.20,540.45 L435.52,540.48 L435.84,540.50 L436.16,540.53 L436.49,540.56 L436.81,540.59 L437.13,540.63 L437.45,540.66 L437.77,540.70 L438.10,540.74 L438.42,540.78 L438.74,540.83 L439.06,540.87 L439.39,540.91 L439.71,540.96 L440.03,541.00 L440.35,541.06 L440.67,541.12 L441.00,541.18 L441.32,541.26 L441.64,541.34 L441.96,541.43 L442.29,541.53 L442.61,541.62 L442.93,541.73 L443.25,541.83 L443.57,541.94 L443.90,542.05 L444.22,542.16 L444.54,542.27 L444.86,542.38 L445.19,542.50 L445.51,542.60 L445.83,542.71 L446.15,542.82 L446.47,542.93 L446.80,543.04 L447.12,543.16 L447.44,543.27 L447.76,543.39 L448.09,543.51 L448.41,543.63 L448.73,543.76 L449.05,543.88 L449.37,544.00 L449.70,544.12 L450.02,544.24 L450.34,544.36 L450.66,544.48 L450.99,544.60 L451.31,544.71 L451.63,544.82 L451.95,544.94 L452.28,545.06 L452.60,545.17 L452.92,545.28 L453.24,545.40 L453.56,545.51 L453.89,545.63 L454.21,545.74 L454.53,545.85 L454.85,545.96 L455.18,546.07 L455.50,546.18 L455.82,546.28 L456.14,546.39 L456.46,546.49 L456.79,546.59 L457.11,546.69 L457.43,546.79 L457.75,546.89 L458.08,546.99 L458.40,547.09 L458.72,547.18 L459.04,547.28 L459.36,547.37 L459.69,547.46 L460.01,547.55 L460.33,547.63 L460.65,547.71 L460.98,547.79 L461.30,547.87 L461.62,547.95 L461.94,548.02 L462.26,548.09 L462.59,548.16 L462.91,548.23 L463.23,548.29 L463.55,548.36 L463.88,548.42 L464.20,548.49 L464.52,548.55 L464.84,548.61 L465.16,548.67 L465.49,548.74 L465.81,548.80 L466.13,548.87 L466.45,548.93 L466.78,549.00 L467.10,549.07 L467.42,549.14 L467.74,549.20 L468.07,549.27 L468.39,549.33 L468.71,549.39 L469.03,549.45 L469.35,549.50 L469.68,549.55 L470.00,549.60 L470.32,549.64 L470.64,549.69 L470.97,549.73 L471.29,549.78 L471.61,549.82 L471.93,549.87 L472.25,549.91 L472.58,549.95 L472.90,549.99 L473.22,550.03 L473.54,550.06 L473.87,550.09 L474.19,550.12 L474.51,550.14 L474.83,550.17 L475.15,550.18 L475.48,550.19 L475.80,550.20 L476.12,550.20 L476.44,550.20 L476.77,550.20 L477.09,550.20 L477.41,550.20 L477.73,550.20 L478.05,550.20 L478.38,550.20 L478.70,550.20 L479.02,550.20 L479.34,550.20 L479.67,550.20 L479.99,550.20 L480.31,550.20 L480.63,550.20 L480.95,550.20 L481.28,550.20 L481.60,550.20 L481.92,550.20 L482.24,550.20 L482.57,550.20 L482.89,550.20 L483.21,550.20 L483.53,550.20 L483.86,550.20 L484.18,550.20 L484.50,550.20 L484.82,550.20 L485.14,550.20 L485.47,550.20 L485.79,550.20 L486.11,550.20 L486.43,550.20 L486.76,550.20 L487.08,550.20 L487.40,550.20 L487.72,550.20 L488.04,550.20 L488.37,550.20 L488.69,550.20 L489.01,550.20 L489.33,550.20 L489.66,550.20 L489.98,550.20 L490.30,550.20" fill="none" stroke="#999" stroke-width="2"/>
<path d="M470.5,548.7 h3.5 M475.5,548.5 h2.5 M479.5,548.8 h3 M484,548.5 h2 M487,548.7 h3" fill="none" stroke="#222" stroke-width="1.1"/>
<g stroke="#000" stroke-width="1.5" fill="none">
<path d="M329.2,444.8 V552.1 M328.4,552.1 H490.3"/>
<path d="M325,444.9 H329.2"/>
<path d="M325,480.2 H329.2"/>
<path d="M325,515.5 H329.2"/>
<path d="M325,550.6 H329.2"/>
<path d="M329.2,552.1 V556"/>
<path d="M382.8,552.1 V556"/>
<path d="M436.5,552.1 V556"/>
<path d="M490.3,552.1 V556"/>
</g>
<text x="325.1" y="448.0" font-size="8.6" fill="#111" text-anchor="end" textLength="13.2" lengthAdjust="spacingAndGlyphs">600</text>
<text x="325.1" y="483.3" font-size="8.6" fill="#111" text-anchor="end" textLength="13.2" lengthAdjust="spacingAndGlyphs">400</text>
<text x="325.1" y="518.6" font-size="8.6" fill="#111" text-anchor="end" textLength="13.2" lengthAdjust="spacingAndGlyphs">200</text>
<text x="325.1" y="553.7" font-size="8.6" fill="#111" text-anchor="end" textLength="4.5" lengthAdjust="spacingAndGlyphs">0</text>
<text x="329.5" y="564.3" font-size="8.6" fill="#111" text-anchor="middle" textLength="4.5" lengthAdjust="spacingAndGlyphs">0</text>
<text x="382.8" y="564.3" font-size="8.6" fill="#111" text-anchor="middle" textLength="9.2" lengthAdjust="spacingAndGlyphs">20</text>
<text x="436.5" y="564.3" font-size="8.6" fill="#111" text-anchor="middle" textLength="9.2" lengthAdjust="spacingAndGlyphs">40</text>
<text x="490.3" y="564.3" font-size="8.6" fill="#111" text-anchor="middle" textLength="9.2" lengthAdjust="spacingAndGlyphs">60</text>
<text x="382" y="578.1" font-size="8" fill="#111" textLength="55.7" lengthAdjust="spacingAndGlyphs">Time (minutes)</text>
<path d="M414.3,466.6 H428.8" stroke="#000" stroke-width="2"/>
<path d="M414.3,480 H428.8" stroke="#333" stroke-width="2"/>
<path d="M414.3,493.8 H428.8" stroke="#999" stroke-width="2"/>
<text x="433.5" y="468.9" font-size="8.8" fill="#111" textLength="34.5" lengthAdjust="spacingAndGlyphs">Amelung</text>
<text x="433.5" y="482.6" font-size="8.8" fill="#111" textLength="30" lengthAdjust="spacingAndGlyphs">ReoRox</text>
<text x="433.5" y="496.4" font-size="8.8" fill="#111" textLength="75" lengthAdjust="spacingAndGlyphs">Polypropylene tube</text>
<text x="345.2" y="597.3" font-size="8" fill="#3a3a3a" textLength="159" lengthAdjust="spacingAndGlyphs" style="stroke:#666;stroke-width:0.15px">* all CTI treated samples generated flat curves</text>
</svg></body></html>
